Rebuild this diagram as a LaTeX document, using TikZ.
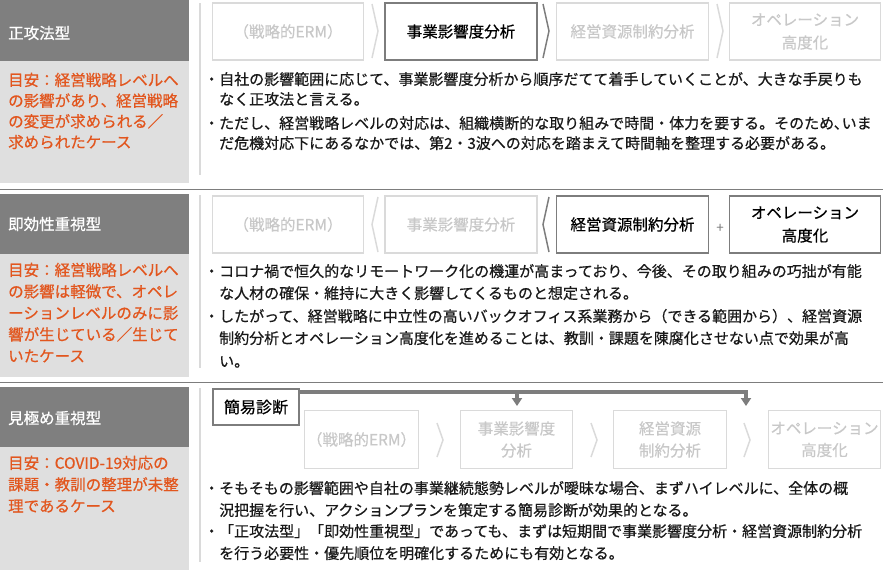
\documentclass[tikz,border=0pt]{standalone}
\usepackage{fontspec}
\setmainfont{Noto Sans CJK JP}[FakeBold=0.6]
\usetikzlibrary{arrows.meta}
\definecolor{hdrgray}{RGB}{127,127,127}
\definecolor{panelgray}{RGB}{223,223,223}
\definecolor{lightline}{RGB}{218,218,218}
\definecolor{lighttext}{RGB}{200,200,200}
\definecolor{darkline}{RGB}{125,125,125}
\definecolor{guideorange}{RGB}{226,86,30}

\begin{document}
\begin{tikzpicture}[x=1pt,y=-1pt,line cap=butt,line join=miter,
  every node/.style={inner sep=0pt},
  hdr/.style={anchor=west,text=white,font=\fontsize{15.5}{18}\selectfont},
  gtxt/.style={anchor=west,text=guideorange,font=\fontsize{15.5}{18}\selectfont,text height=.88em,text depth=.12em},
  btxt/.style={anchor=west,text=black!90,font=\fontsize{15}{18}\selectfont,text height=.88em,text depth=.12em},
  stage/.style={draw=lightline,line width=1.2pt,text=lighttext,align=center,minimum height=57pt,font=\fontsize{15.5}{23}\selectfont},
  stageon/.style={stage,draw=darkline,line width=1.8pt,text=black},
  chevoff/.style={draw=lightline,line width=1.5pt},
  chevon/.style={draw=darkline,line width=1.5pt},
  bar/.style={draw=darkline,line width=3.5pt},
  sepline/.style={draw=lightline,line width=2pt},
]
\useasboundingbox (0,0) rectangle (883,570);

% left panels
\fill[hdrgray] (0,0) rectangle (189,61);
\fill[panelgray] (0,61) rectangle (189,183);
\fill[hdrgray] (0,194) rectangle (189,254);
\fill[panelgray] (0,254) rectangle (189,377);
\fill[hdrgray] (0,387) rectangle (189,447);
\fill[panelgray] (0,447) rectangle (189,570);
\draw[darkline,line width=1pt] (0,189) -- (883,189);
\draw[darkline,line width=1pt] (0,382) -- (883,382);
\draw[sepline] (200,3) -- (200,175);
\draw[sepline] (200,195) -- (200,368);
\draw[sepline] (200,388) -- (200,562);

\node[hdr] (h1) at (8,33) {正攻法型};
\node[hdr] (h2) at (8,224) {即効性重視型};
\node[hdr] (h3) at (8,418) {見極め重視型};

\foreach \t [count=\i] in {目安：経営戦略レベルへ,の影響があり、経営戦略,の変更が求められる／,求められたケース}
  \node[gtxt] (g1-\i) at (8,{82+20.7*(\i-1)}) {\t};
\foreach \t [count=\i] in {目安：経営戦略レベルへ,の影響は軽微で、オペレ,ーションレベルのみに影,響が生じている／生じて,いたケース}
  \node[gtxt] (g2-\i) at (8,{272+21.5*(\i-1)}) {\t};
\foreach \t [count=\i] in {目安：COVID-19対応の,課題・教訓の整理が未整,理であるケース}
  \node[gtxt] (g3-\i) at (8,{465+21.5*(\i-1)}) {\t};

% section 1
\node[stage,minimum width=151pt] (s1e) at (288,31.5) {（戦略的ERM）};
\node[stageon,minimum width=152pt] (s1b) at (461,31.5) {事業影響度分析};
\node[stage,minimum width=152pt] (s1r) at (632.5,31.5) {経営資源制約分析};
\node[stage,minimum width=151pt] (s1o) at (805,31.5) {オペレーション\\高度化};
\draw[chevoff] (372,4) -- (378,31) -- (372,58);
\draw[chevon] (543,4) -- (549,31) -- (543,58);
\draw[chevoff] (717,4) -- (723,31) -- (717,58);

\foreach \x/\y/\t in {204/81/・自社の影響範囲に応じて、事業影響度分析から順序だてて着手していくことが、大きな手戻りも,
  219/101/なく正攻法と言える。,
  204/125/・ただし、経営戦略レベルの対応は、組織横断的な取り組みで時間・体力を要する。そのため､いま,
  219/145/だ危機対応下にあるなかでは、第2・3波への対応を踏まえて時間軸を整理する必要がある。}
  \node[btxt] at (\x,\y) {\t};

% section 2
\node[stage,minimum width=151pt] (s2e) at (288,224.5) {（戦略的ERM）};
\node[stage,minimum width=152pt] (s2b) at (461,224.5) {事業影響度分析};
\node[stageon,minimum width=152pt] (s2r) at (632.5,224.5) {経営資源制約分析};
\node[stageon,minimum width=151pt] (s2o) at (805,224.5) {オペレーション\\高度化};
\draw[chevoff] (378,197) -- (372,224.5) -- (378,252);
\draw[chevon] (549,197) -- (543,224.5) -- (549,252);
\node[text=darkline,font=\fontsize{13}{14}\selectfont] (plus) at (720,228) {+};

\foreach \x/\y/\t in {204/273/・コロナ禍で恒久的なリモートワーク化の機運が高まっており、今後、その取り組みの巧拙が有能,
  219/295/な人材の確保・維持に大きく影響してくるものと想定される。,
  204/318/・したがって、経営戦略に中立性の高いバックオフィス系業務から（できる範囲から）、経営資源,
  219/340/制約分析とオペレーション高度化を進めることは、教訓・課題を陳腐化させない点で効果が高,
  219/363/い。}
  \node[btxt] at (\x,\y) {\t};

% section 3
\node[stage,minimum width=114pt,minimum height=58pt,font=\fontsize{15.5}{22}\selectfont] (s3e) at (361.5,439.5) {（戦略的ERM）};
\node[stage,minimum width=112pt,minimum height=58pt,font=\fontsize{15.5}{22}\selectfont] (s3b) at (516.5,439.5) {事業影響度\\分析};
\node[stage,minimum width=113pt,minimum height=58pt,font=\fontsize{15.5}{22}\selectfont] (s3r) at (670,439.5) {経営資源\\制約分析};
\node[stage,minimum width=112pt,minimum height=58pt,font=\fontsize{15.5}{22}\selectfont] (s3o) at (824.5,439.5) {オペレーション\\高度化};
\draw[chevoff] (437,423) -- (443,440) -- (437,457);
\draw[chevoff] (591,423) -- (597,440) -- (591,457);
\draw[chevoff] (744,423) -- (750,440) -- (744,457);

\node[stageon,fill=white,minimum width=86pt,minimum height=36pt,font=\fontsize{16}{18}\selectfont] (kani) at (256,407) {簡易診断};
\coordinate (k1) at (517,406);
\coordinate (k2) at (746,406);
\draw[bar,-{Triangle[width=10pt,length=8pt]}] (kani.east |- 0,392) -| (k2);
\draw[bar,-{Triangle[width=10pt,length=8pt]}] (k1 |- 0,392) -- (k1);

\foreach \x/\y/\t in {204/490/・そもそもの影響範囲や自社の事業継続態勢レベルが曖昧な場合、まずハイレベルに、全体の概,
  219/512/況把握を行い、アクションプランを策定する簡易診断が効果的となる。,
  204/533/・「正攻法型」「即効性重視型」であっても、まずは短期間で事業影響度分析・経営資源制約分析,
  219/555/を行う必要性・優先順位を明確化するためにも有効となる。}
  \node[btxt] at (\x,\y) {\t};
\end{tikzpicture}
\end{document}
